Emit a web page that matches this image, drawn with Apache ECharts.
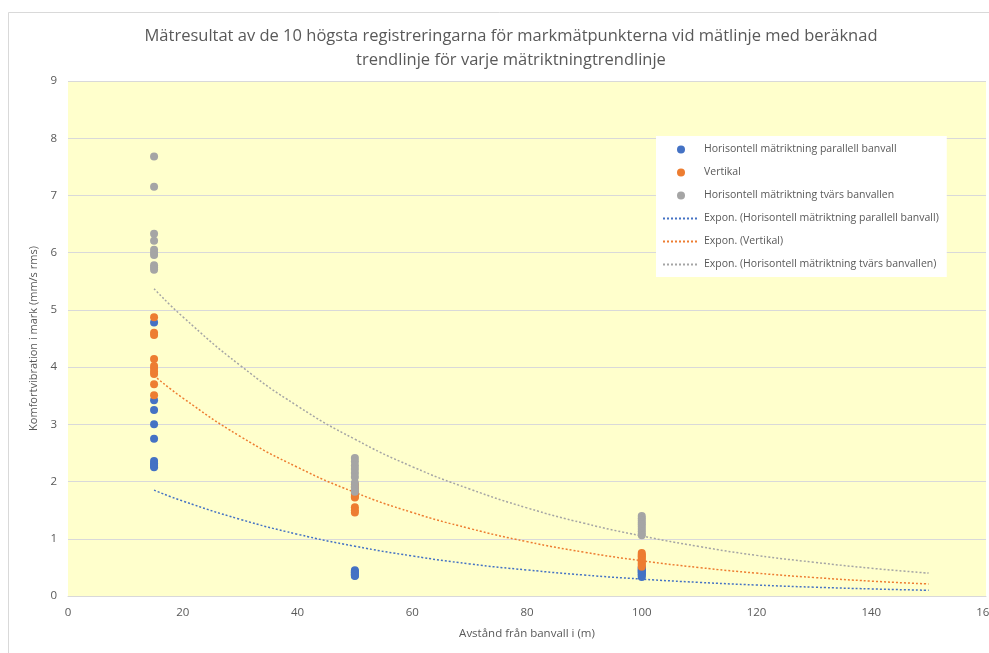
<!DOCTYPE html>
<html>
<head>
<meta charset="utf-8">
<script src="https://cdn.jsdelivr.net/npm/echarts@6/dist/echarts.min.js"></script>
<style>
html,body{margin:0;padding:0;background:#fff;}
#c{width:989px;height:653px;}
</style>
</head>
<body>
<div id="c"></div>
<script>
// ---- data ----
var distances = [15, 50, 100];
var parallelVals = [
  [4.78, 3.42, 3.25, 3.00, 2.75, 2.36, 2.32, 2.29, 2.27, 2.25],
  [0.45, 0.43, 0.42, 0.41, 0.40, 0.39, 0.38, 0.37, 0.36, 0.35],
  [0.50, 0.48, 0.46, 0.45, 0.43, 0.42, 0.40, 0.38, 0.36, 0.33]
];
var vertikalVals = [
  [4.87, 4.60, 4.56, 4.14, 4.02, 3.97, 3.92, 3.88, 3.70, 3.51],
  [1.95, 1.90, 1.85, 1.80, 1.77, 1.74, 1.72, 1.55, 1.50, 1.46],
  [0.75, 0.72, 0.70, 0.68, 0.65, 0.62, 0.60, 0.57, 0.54, 0.51]
];
var tvarsVals = [
  [7.68, 7.15, 6.33, 6.21, 6.05, 6.00, 5.96, 5.78, 5.74, 5.70],
  [2.41, 2.35, 2.28, 2.22, 2.15, 2.08, 1.98, 1.92, 1.86, 1.82],
  [1.40, 1.36, 1.32, 1.28, 1.25, 1.21, 1.17, 1.13, 1.09, 1.06]
];
// trendline values
var trendX = [15, 20, 30, 40, 50, 60, 70, 80, 90, 100, 110, 120, 130, 140, 150];
var trendParallel = [1.85, 1.66, 1.34, 1.08, 0.87, 0.70, 0.56, 0.455, 0.366, 0.295, 0.238, 0.192, 0.154, 0.124, 0.10];
var trendVertikal = [3.85, 3.46, 2.79, 2.25, 1.81, 1.46, 1.18, 0.95, 0.765, 0.617, 0.497, 0.40, 0.323, 0.26, 0.21];
var trendTvars = [5.37, 4.88, 4.03, 3.32, 2.74, 2.26, 1.87, 1.54, 1.27, 1.05, 0.865, 0.71, 0.59, 0.485, 0.40];

var seriesNames = [
  'Horisontell mätriktning parallell banvall',
  'Vertikal',
  'Horisontell mätriktning tvärs banvallen',
  'Expon. (Horisontell mätriktning parallell banvall)',
  'Expon. (Vertikal)',
  'Expon. (Horisontell mätriktning tvärs banvallen)'
];
var titleText = 'Mätresultat av de 10 högsta registreringarna för markmätpunkterna vid mätlinje med beräknad\ntrendlinje för varje mätriktningtrendlinje';
var xTitle = 'Avstånd från banvall i (m)';
var yTitle = 'Komfortvibration i mark (mm/s rms)';

var colors = ['#4472C4', '#ED7D31', '#A5A5A5'];

function pts(vals) {
  var out = [];
  for (var i = 0; i < distances.length; i++) {
    for (var j = 0; j < vals[i].length; j++) out.push([distances[i], vals[i][j]]);
  }
  return out;
}
function line(vals) {
  return trendX.map(function (x, i) { return [x, vals[i]]; });
}

var FONT = 'Open Sans';
var chart = echarts.init(document.getElementById('c'), null, {renderer: 'canvas'});
var scatterVals = [parallelVals, vertikalVals, tvarsVals];
var trendVals = [trendParallel, trendVertikal, trendTvars];
var series = [];
for (var k = 0; k < 3; k++) {
  series.push({
    name: seriesNames[k], type: 'scatter', data: pts(scatterVals[k]),
    symbol: 'circle', symbolSize: 8, itemStyle: {color: colors[k], opacity: 1}, z: 3 + k
  });
}
for (var k = 0; k < 3; k++) {
  series.push({
    name: seriesNames[3 + k], type: 'line', data: line(trendVals[k]), smooth: true,
    symbol: 'none', showSymbol: false,
    lineStyle: {color: colors[k], width: 1.5, type: [2, 2]}, itemStyle: {color: colors[k]}, z: 2
  });
}

chart.setOption({
  backgroundColor: '#fff',
  animation: false,
  graphic: [{
    type: 'rect', left: 6, top: 10, shape: {width: 1200, height: 800},
    style: {fill: 'none', stroke: '#D9D9D9', lineWidth: 1}, z: -10, silent: true
  }],
  title: {
    text: titleText, left: 506, top: 19, textAlign: 'center',
    textStyle: {fontFamily: FONT, fontSize: 16.5, fontWeight: 'normal', color: '#595959', lineHeight: 24, align: 'center'}
  },
  legend: {
    orient: 'vertical', left: 656, top: 136,
    backgroundColor: '#fff', padding: [8, 8, 7, 6],
    itemWidth: 36, itemHeight: 8, itemGap: 12,
    textStyle: {fontFamily: FONT, fontSize: 10.5, color: '#595959'},
    data: seriesNames.map(function (n, i) {
      return i < 3 ? {name: n, icon: 'circle'} : {name: n, itemStyle: {opacity: 0}};
    })
  },
  grid: {left: 68, top: 81, width: 918, height: 515, show: true, backgroundColor: '#FFFFCC', borderWidth: 0, outerBoundsMode: 'none', containLabel: false},
  xAxis: {
    type: 'value', min: 0, max: 160, interval: 20,
    name: xTitle, nameLocation: 'middle', nameGap: 32,
    nameTextStyle: {fontFamily: FONT, fontSize: 11.5, color: '#595959'},
    axisLine: {show: true, lineStyle: {color: '#D9D9D9'}},
    axisTick: {show: false},
    axisLabel: {fontFamily: FONT, fontSize: 11.5, color: '#595959', margin: 11, showMaxLabel: true, hideOverlap: false},
    splitLine: {show: false}
  },
  yAxis: {
    type: 'value', min: 0, max: 9, interval: 1,
    name: yTitle, nameLocation: 'middle', nameGap: 16,
    nameTextStyle: {fontFamily: FONT, fontSize: 11, color: '#595959'},
    axisLine: {show: false}, axisTick: {show: false},
    axisLabel: {fontFamily: FONT, fontSize: 11.5, color: '#595959', margin: 11},
    splitLine: {show: true, lineStyle: {color: '#D9D9D9', width: 1}}
  },
  series: series
});
</script>
</body>
</html>
